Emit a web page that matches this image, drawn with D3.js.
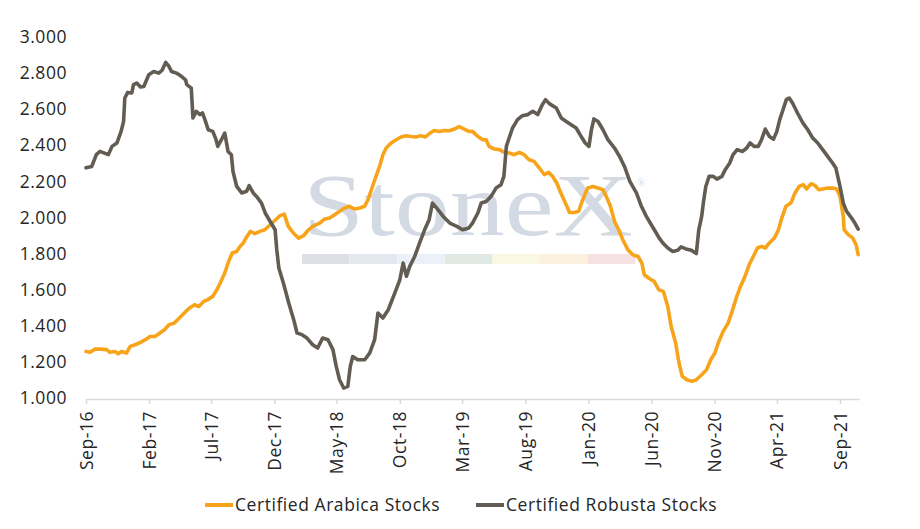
<!DOCTYPE html>
<html>
<head>
<meta charset="utf-8">
<script src="https://cdn.jsdelivr.net/npm/d3@7"></script>
<style>
  body { margin: 0; background: #fff; }
  svg text { font-family: "Open Sans", "Noto Sans", sans-serif; fill: #262626; }
  .lbl { letter-spacing: 0.55px; }
</style>
</head>
<body>
<div id="chart"></div>
<script>
var width = 920, height = 529;
var margin = {top: 37, right: 61, bottom: 131, left: 86};
var fontSize = "17.5px";

// certified stocks (thousands)
var arabicaDates = ["2016-09-01","2016-09-11","2016-09-23","2016-10-05","2016-10-21","2016-10-29","2016-11-10","2016-11-18","2016-11-26","2016-12-08","2016-12-17","2016-12-29","2017-01-11","2017-01-23","2017-02-03","2017-02-15","2017-02-27","2017-03-10","2017-03-21","2017-04-03","2017-04-15","2017-04-27","2017-05-10","2017-05-22","2017-06-01","2017-06-13","2017-06-23","2017-07-05","2017-07-15","2017-07-23","2017-08-03","2017-08-11","2017-08-21","2017-09-01","2017-09-09","2017-09-17","2017-09-25","2017-10-04","2017-10-15","2017-10-27","2017-11-08","2017-11-21","2017-12-03","2017-12-15","2017-12-25","2018-01-04","2018-01-16","2018-01-29","2018-02-10","2018-02-22","2018-03-04","2018-03-21","2018-04-02","2018-04-14","2018-04-26","2018-05-08","2018-05-20","2018-06-01","2018-06-13","2018-06-26","2018-07-08","2018-07-16","2018-07-24","2018-08-03","2018-08-13","2018-08-21","2018-08-29","2018-09-10","2018-09-22","2018-10-04","2018-10-16","2018-10-28","2018-11-09","2018-11-21","2018-12-02","2018-12-11","2018-12-23","2019-01-05","2019-01-17","2019-01-29","2019-02-10","2019-02-22","2019-03-06","2019-03-17","2019-03-26","2019-04-08","2019-04-20","2019-04-28","2019-05-05","2019-05-17","2019-05-30","2019-06-11","2019-06-23","2019-07-05","2019-07-17","2019-07-29","2019-08-10","2019-08-22","2019-09-04","2019-09-16","2019-09-26","2019-10-06","2019-10-16","2019-10-26","2019-11-06","2019-11-16","2019-11-28","2019-12-08","2019-12-18","2019-12-30","2020-01-12","2020-01-24","2020-02-05","2020-02-13","2020-02-23","2020-03-04","2020-03-14","2020-03-24","2020-04-05","2020-04-17","2020-04-30","2020-05-09","2020-05-15","2020-05-27","2020-06-08","2020-06-19","2020-06-30","2020-07-11","2020-07-19","2020-07-30","2020-08-07","2020-08-15","2020-08-26","2020-09-08","2020-09-18","2020-10-01","2020-10-13","2020-10-23","2020-11-02","2020-11-10","2020-11-22","2020-12-04","2020-12-15","2020-12-25","2021-01-03","2021-01-14","2021-01-24","2021-02-03","2021-02-13","2021-02-23","2021-03-04","2021-03-14","2021-03-26","2021-04-05","2021-04-13","2021-04-23","2021-05-05","2021-05-15","2021-05-25","2021-06-04","2021-06-12","2021-06-23","2021-07-03","2021-07-11","2021-07-21","2021-08-02","2021-08-14","2021-08-24","2021-09-01","2021-09-09","2021-09-11","2021-09-21","2021-10-02","2021-10-10","2021-10-15"];
var arabicaValues = [1258,1253,1271,1271,1268,1253,1258,1245,1258,1249,1286,1295,1308,1323,1341,1341,1360,1378,1406,1415,1443,1471,1499,1517,1507,1535,1545,1563,1600,1637,1692,1748,1803,1812,1840,1859,1892,1923,1910,1923,1932,1960,1985,2010,2019,1951,1914,1886,1899,1932,1951,1969,1992,1997,2015,2034,2053,2062,2047,2053,2062,2099,2154,2219,2283,2348,2385,2413,2431,2446,2453,2449,2446,2453,2446,2464,2482,2477,2482,2481,2490,2503,2490,2477,2477,2449,2431,2431,2394,2380,2376,2361,2357,2348,2361,2348,2320,2311,2274,2237,2250,2228,2191,2136,2080,2028,2028,2034,2099,2163,2172,2163,2154,2117,2062,1978,1932,1877,1822,1794,1784,1748,1683,1662,1646,1600,1591,1507,1397,1305,1194,1120,1101,1092,1101,1129,1157,1212,1249,1305,1369,1415,1489,1563,1618,1674,1738,1784,1831,1840,1831,1859,1886,1932,1997,2062,2080,2136,2172,2182,2158,2187,2176,2154,2158,2163,2163,2158,2117,2006,1932,1905,1886,1849,1794];

var robustaDates = ["2016-09-01","2016-09-15","2016-09-26","2016-10-05","2016-10-25","2016-11-03","2016-11-15","2016-11-25","2016-12-01","2016-12-04","2016-12-11","2016-12-21","2016-12-25","2017-01-02","2017-01-11","2017-01-19","2017-01-31","2017-02-12","2017-02-24","2017-03-04","2017-03-13","2017-03-21","2017-03-27","2017-04-08","2017-04-20","2017-04-30","2017-05-03","2017-05-14","2017-05-18","2017-05-26","2017-06-04","2017-06-10","2017-06-16","2017-06-24","2017-07-05","2017-07-13","2017-07-17","2017-07-26","2017-08-03","2017-08-11","2017-08-19","2017-08-23","2017-09-01","2017-09-13","2017-09-25","2017-10-01","2017-10-11","2017-10-19","2017-10-31","2017-11-09","2017-11-21","2017-12-03","2017-12-07","2017-12-12","2017-12-23","2018-01-05","2018-01-17","2018-01-25","2018-02-06","2018-02-18","2018-03-04","2018-03-16","2018-03-28","2018-04-10","2018-04-22","2018-04-30","2018-05-08","2018-05-18","2018-05-28","2018-06-03","2018-06-09","2018-06-21","2018-07-08","2018-07-20","2018-08-01","2018-08-09","2018-08-21","2018-09-03","2018-09-19","2018-10-01","2018-10-09","2018-10-17","2018-10-25","2018-11-06","2018-11-18","2018-11-30","2018-12-11","2018-12-19","2018-12-29","2019-01-14","2019-01-30","2019-02-16","2019-03-02","2019-03-17","2019-03-26","2019-04-08","2019-04-16","2019-04-28","2019-05-10","2019-05-22","2019-06-03","2019-06-10","2019-06-16","2019-06-24","2019-07-01","2019-07-13","2019-07-25","2019-08-07","2019-08-19","2019-08-31","2019-09-11","2019-09-19","2019-09-28","2019-10-15","2019-10-27","2019-11-08","2019-11-20","2019-12-02","2019-12-14","2019-12-24","2020-01-02","2020-01-08","2020-01-14","2020-01-24","2020-02-05","2020-02-17","2020-03-04","2020-03-16","2020-03-28","2020-04-10","2020-04-26","2020-05-08","2020-05-20","2020-06-01","2020-06-13","2020-06-19","2020-06-29","2020-07-11","2020-07-23","2020-08-04","2020-08-12","2020-08-24","2020-09-06","2020-09-18","2020-09-24","2020-10-01","2020-10-05","2020-10-11","2020-10-19","2020-10-29","2020-11-07","2020-11-19","2020-11-27","2020-12-08","2020-12-16","2020-12-26","2021-01-08","2021-01-18","2021-01-26","2021-02-05","2021-02-15","2021-02-23","2021-03-04","2021-03-14","2021-03-24","2021-04-01","2021-04-08","2021-04-16","2021-04-24","2021-05-01","2021-05-09","2021-05-21","2021-06-03","2021-06-15","2021-06-27","2021-07-09","2021-07-21","2021-08-02","2021-08-14","2021-08-22","2021-09-01","2021-09-09","2021-09-17","2021-09-29","2021-10-07","2021-10-15"];
var robustaValues = [2275,2283,2348,2366,2348,2394,2413,2477,2532,2662,2693,2690,2736,2745,2723,2726,2791,2809,2800,2815,2859,2837,2809,2800,2782,2763,2736,2717,2551,2588,2570,2579,2542,2486,2477,2431,2394,2431,2468,2366,2348,2255,2172,2136,2145,2176,2136,2117,2080,2025,1978,1932,1822,1720,1637,1526,1434,1360,1351,1332,1295,1277,1332,1323,1268,1175,1101,1055,1064,1175,1230,1212,1212,1249,1323,1471,1443,1489,1582,1655,1748,1674,1729,1784,1859,1932,1988,2080,2053,2006,1969,1951,1932,1942,1969,2025,2080,2089,2117,2163,2182,2228,2394,2449,2496,2542,2564,2570,2588,2570,2625,2653,2631,2607,2551,2532,2514,2496,2449,2413,2394,2486,2546,2532,2486,2431,2385,2339,2283,2200,2136,2062,2006,1960,1914,1890,1859,1831,1812,1818,1837,1826,1818,1800,1932,2006,2080,2172,2228,2228,2213,2228,2265,2302,2348,2376,2366,2385,2413,2394,2394,2431,2490,2449,2434,2477,2542,2597,2653,2662,2634,2579,2524,2486,2440,2413,2376,2339,2302,2274,2172,2080,2034,1997,1969,1936];

var xTickDates = ["2016-09-01","2017-02-01","2017-07-01","2017-12-01","2018-05-01","2018-10-01","2019-03-01","2019-08-01","2020-01-01","2020-06-01","2020-11-01","2021-04-01","2021-09-01"];
var yTicks = [1000,1200,1400,1600,1800,2000,2200,2400,2600,2800,3000];
var seriesNames = ["Certified Arabica Stocks","Certified Robusta Stocks"];
var seriesColors = ["#f8a41b","#625c53"];

var parse = d3.timeParse("%Y-%m-%d");
var fmtLocale = d3.formatLocale({decimal: ",", thousands: ".", grouping: [3], currency: ["", ""]});
var fmtY = fmtLocale.format(",.0f");
var fmtX = d3.timeFormat("%b-%y");

var series = [
  arabicaDates.map((d, i) => ({date: parse(d), value: arabicaValues[i]})),
  robustaDates.map((d, i) => ({date: parse(d), value: robustaValues[i]}))
];

var svg = d3.select("#chart").append("svg")
  .attr("width", width)
  .attr("height", height);

var x = d3.scaleTime()
  .domain([parse("2016-09-01"), parse("2021-10-17")])
  .range([margin.left, width - margin.right]);
var y = d3.scaleLinear()
  .domain([1000, 3000])
  .range([height - margin.bottom, margin.top]);

// watermark
var wm = svg.append("g").attr("class", "watermark");
wm.append("text")
  .attr("x", 303).attr("y", 235)
  .attr("textLength", 330)
  .attr("lengthAdjust", "spacingAndGlyphs")
  .style("font-family", "'Liberation Serif', 'DejaVu Serif', serif")
  .style("font-size", "88px")
  .style("fill", "#d3dae3")
  .text("StoneX");
wm.append("text")
  .attr("x", 637).attr("y", 186)
  .style("font-family", "'Liberation Serif', serif")
  .style("font-size", "11px")
  .style("fill", "#d3dae3")
  .text("®");
var bandColors = ["#dde0e6","#e4e9f0","#eaf1f8","#e0e9e3","#faf7e3","#fcf1df","#f5e1e2"];
wm.selectAll("rect")
  .data(bandColors)
  .join("rect")
  .attr("x", (d, i) => 302 + i * 47.6)
  .attr("y", 254)
  .attr("width", 47.6)
  .attr("height", 10)
  .attr("fill", d => d);

// y axis labels, no line
var yAxis = svg.append("g")
  .attr("transform", "translate(" + margin.left + ",0)")
  .call(d3.axisLeft(y).tickValues(yTicks).tickFormat(fmtY).tickSize(0).tickPadding(19));
yAxis.select(".domain").remove();
yAxis.selectAll("text")
  .attr("class", "lbl")
  .style("font-size", fontSize)
  .attr("fill", "#262626");

// x axis
var xAxis = svg.append("g")
  .attr("transform", "translate(0," + (height - margin.bottom + 1) + ")")
  .call(d3.axisBottom(x).tickValues(xTickDates.map(parse)).tickFormat(fmtX).tickSize(5).tickSizeOuter(0));
xAxis.select(".domain").attr("stroke", "#d9d9d9").attr("stroke-width", 1.5);
xAxis.selectAll(".tick line").attr("stroke", "#d9d9d9").attr("stroke-width", 1.5);
xAxis.selectAll("text")
  .attr("class", "lbl")
  .style("font-size", fontSize)
  .attr("fill", "#262626")
  .attr("transform", "rotate(-90)")
  .attr("text-anchor", "end")
  .attr("dy", "0.35em")
  .attr("x", -12)
  .attr("y", 0);

// lines
var line = d3.line()
  .x(d => x(d.date))
  .y(d => y(d.value));

svg.append("g")
  .selectAll("path")
  .data(series)
  .join("path")
  .attr("d", line)
  .attr("fill", "none")
  .attr("stroke", (d, i) => seriesColors[i])
  .attr("stroke-width", 3.6)
  .attr("stroke-linejoin", "round")
  .attr("stroke-linecap", "round");

// legend
var legendX = [205, 476];
var legend = svg.append("g")
  .selectAll("g")
  .data(seriesNames)
  .join("g")
  .attr("transform", (d, i) => "translate(" + legendX[i] + ",505)");
legend.append("line")
  .attr("x1", 0).attr("x2", 28)
  .attr("stroke", (d, i) => seriesColors[i])
  .attr("stroke-width", 4);
legend.append("text")
  .attr("class", "lbl")
  .attr("x", 30)
  .attr("dy", "0.35em")
  .style("font-size", fontSize)
  .text(d => d);
</script>
</body>
</html>
